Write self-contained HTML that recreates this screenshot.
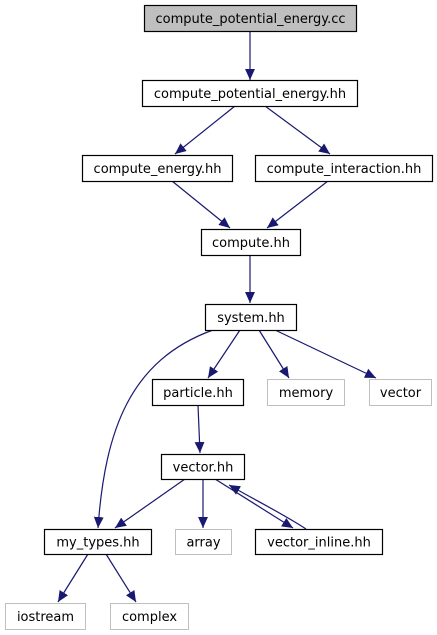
<!DOCTYPE html>
<html><head><meta charset="utf-8"><style>
html,body{margin:0;padding:0;background:#fff;width:437px;height:635px;overflow:hidden}
svg text{font-family:"DejaVu Sans","Liberation Sans",sans-serif;font-size:13px;fill:#000}
</style></head><body>
<svg id="g" width="437" height="635" viewBox="0 0 437 635">
<defs><marker id="ah" viewBox="0 0 10 10" refX="10" refY="5" markerWidth="11" markerHeight="11" markerUnits="userSpaceOnUse" orient="auto"><path d="M0,0.5 L10,5 L0,9.5 z" fill="#191970"/></marker></defs>
<g id="edges"></g><g id="nodes"></g>
</svg>
<script>
const nodeNames = ["compute_potential_energy.cc","compute_potential_energy.hh","compute_energy.hh","compute_interaction.hh","compute.hh","system.hh","particle.hh","memory","vector","vector.hh","my_types.hh","array","vector_inline.hh","iostream","complex"];
const nodeBoxes = [[144,5,212,26],[142,80,215,26],[82,155,150,26],[255,155,177,26],[201,229,99,26],[205,304,91,26],[152,379,91,26],[267,379,77,26],[369,379,62,26],[161,454,83,25],[44,529,107,25],[175,529,56,25],[255,529,127,25],[5,603,80,26],[110,603,78,26]];
const nodeKind = ["main","file","file","file","file","file","file","sys","sys","file","file","sys","file","sys","sys"];
const edgePaths = [
 "M250,31 L250,80","M235,106 L175,154","M265,106 L330,154","M172,181 L230,228","M328,181 L267,228",
 "M250,255 L250,303","M240,330 L208,378","M259,330 L289,378","M275,330 L376,378",
 "M213,330 C130,360 105,430 98,528","M198,405 L200,453","M185,479 L115,528","M203,479 L203,528",
 "M215,479 L293,528","M306,529 C285,515 255,500 229,485","M88,554 L58,602","M106,554 L136,602"];
const ns="http://www.w3.org/2000/svg";
const E=document.getElementById('edges'),N=document.getElementById('nodes');
edgePaths.forEach((d,i)=>{const p=document.createElementNS(ns,'path');
p.setAttribute('d',d);p.setAttribute('fill','none');p.setAttribute('stroke','#191970');p.setAttribute('stroke-width','1.2');p.setAttribute('marker-end','url(#ah)');


E.appendChild(p);});
nodeNames.forEach((n,i)=>{const [x,y,w,h]=nodeBoxes[i];const g=document.createElementNS(ns,'g');


const r=document.createElementNS(ns,'rect');r.setAttribute('x',x+0.5);r.setAttribute('y',y+0.5);r.setAttribute('width',w);r.setAttribute('height',h);
const k=nodeKind[i];r.setAttribute('fill',k==='main'?'#bfbfbf':'#fff');r.setAttribute('stroke',k==='sys'?'#bfbfbf':'#000');r.setAttribute('stroke-width',k==='sys'?'1':'1.2');
const t=document.createElementNS(ns,'text');t.setAttribute('x',x+w/2+0.5);t.setAttribute('y',y+h/2+5);t.setAttribute('text-anchor','middle');t.textContent=n;
g.appendChild(r);g.appendChild(t);N.appendChild(g);});
</script>
</body></html>
